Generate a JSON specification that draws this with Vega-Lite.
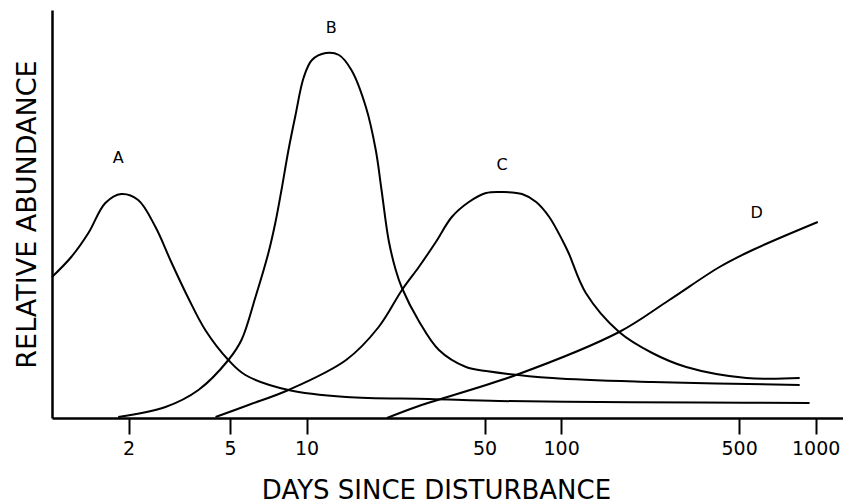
{
  "$schema": "https://vega.github.io/schema/vega-lite/v6.json",
  "width": 791,
  "height": 408,
  "autosize": {"type": "none"},
  "padding": {"left": 52, "top": 10, "right": 0, "bottom": 86},
  "background": "white",
  "config": {
    "view": {"stroke": null},
    "font": "DejaVu Sans"
  },
  "datasets": {
    "curves": [
      {"series": "A", "days": 1.0, "abundance": 141},
      {"series": "A", "days": 1.19, "abundance": 161},
      {"series": "A", "days": 1.39, "abundance": 185},
      {"series": "A", "days": 1.62, "abundance": 215},
      {"series": "A", "days": 1.87, "abundance": 224},
      {"series": "A", "days": 2.18, "abundance": 218},
      {"series": "A", "days": 2.55, "abundance": 191},
      {"series": "A", "days": 2.94, "abundance": 156},
      {"series": "A", "days": 3.43, "abundance": 120},
      {"series": "A", "days": 4.0, "abundance": 88},
      {"series": "A", "days": 4.93, "abundance": 58},
      {"series": "A", "days": 5.75, "abundance": 43},
      {"series": "A", "days": 8.49, "abundance": 28},
      {"series": "A", "days": 14.3, "abundance": 21},
      {"series": "A", "days": 30.2, "abundance": 19},
      {"series": "A", "days": 57.0, "abundance": 17},
      {"series": "A", "days": 141, "abundance": 16},
      {"series": "A", "days": 349, "abundance": 15.5},
      {"series": "A", "days": 946, "abundance": 15},
      {"series": "B", "days": 1.82, "abundance": 1},
      {"series": "B", "days": 2.79, "abundance": 11},
      {"series": "B", "days": 3.76, "abundance": 28},
      {"series": "B", "days": 4.93, "abundance": 58},
      {"series": "B", "days": 5.55, "abundance": 78},
      {"series": "B", "days": 6.3, "abundance": 121},
      {"series": "B", "days": 7.08, "abundance": 165},
      {"series": "B", "days": 7.55, "abundance": 196},
      {"series": "B", "days": 7.97, "abundance": 228},
      {"series": "B", "days": 8.49, "abundance": 268},
      {"series": "B", "days": 9.05, "abundance": 303},
      {"series": "B", "days": 9.73, "abundance": 340},
      {"series": "B", "days": 10.5, "abundance": 358},
      {"series": "B", "days": 11.9, "abundance": 365},
      {"series": "B", "days": 13.4, "abundance": 363},
      {"series": "B", "days": 15.0, "abundance": 348},
      {"series": "B", "days": 17.1, "abundance": 311},
      {"series": "B", "days": 18.7, "abundance": 268},
      {"series": "B", "days": 19.7, "abundance": 228},
      {"series": "B", "days": 21.0, "abundance": 178},
      {"series": "B", "days": 22.4, "abundance": 148},
      {"series": "B", "days": 23.7, "abundance": 130},
      {"series": "B", "days": 27.6, "abundance": 97},
      {"series": "B", "days": 33.1, "abundance": 68},
      {"series": "B", "days": 42.3, "abundance": 51},
      {"series": "B", "days": 50.7, "abundance": 47},
      {"series": "B", "days": 92.3, "abundance": 40},
      {"series": "B", "days": 228, "abundance": 36},
      {"series": "B", "days": 865, "abundance": 33},
      {"series": "C", "days": 4.39, "abundance": 1},
      {"series": "C", "days": 5.91, "abundance": 13},
      {"series": "C", "days": 8.49, "abundance": 28},
      {"series": "C", "days": 14.3, "abundance": 58},
      {"series": "C", "days": 19.2, "abundance": 91},
      {"series": "C", "days": 23.7, "abundance": 128},
      {"series": "C", "days": 27.6, "abundance": 151},
      {"series": "C", "days": 32.2, "abundance": 176},
      {"series": "C", "days": 37.2, "abundance": 201},
      {"series": "C", "days": 43.4, "abundance": 216},
      {"series": "C", "days": 50.7, "abundance": 225},
      {"series": "C", "days": 58.6, "abundance": 226},
      {"series": "C", "days": 70.2, "abundance": 224},
      {"series": "C", "days": 79.8, "abundance": 216},
      {"series": "C", "days": 89.8, "abundance": 201},
      {"series": "C", "days": 101, "abundance": 178},
      {"series": "C", "days": 107, "abundance": 165},
      {"series": "C", "days": 125, "abundance": 125},
      {"series": "C", "days": 169, "abundance": 86},
      {"series": "C", "days": 228, "abundance": 65},
      {"series": "C", "days": 310, "abundance": 51},
      {"series": "C", "days": 535, "abundance": 40},
      {"series": "C", "days": 865, "abundance": 40},
      {"series": "D", "days": 20.7, "abundance": 0},
      {"series": "D", "days": 27.6, "abundance": 12},
      {"series": "D", "days": 66.5, "abundance": 43},
      {"series": "D", "days": 169, "abundance": 86},
      {"series": "D", "days": 266, "abundance": 118},
      {"series": "D", "days": 419, "abundance": 151},
      {"series": "D", "days": 565, "abundance": 168},
      {"series": "D", "days": 1019, "abundance": 196}
    ],
    "labels": [
      {"label": "A", "days": 1.82, "abundance": 260},
      {"label": "B", "days": 12.5, "abundance": 390},
      {"label": "C", "days": 58.6, "abundance": 253},
      {"label": "D", "days": 586, "abundance": 205}
    ]
  },
  "layer": [
    {
      "data": {"name": "curves"},
      "mark": {"type": "line", "interpolate": "catmull-rom", "color": "black", "strokeWidth": 2},
      "encoding": {
        "x": {
          "field": "days", "type": "quantitative",
          "scale": {"type": "log", "domain": [1, 1280], "nice": false},
          "axis": {
            "values": [2, 5, 10, 50, 100, 500, 1000],
            "format": "d",
            "title": "DAYS SINCE DISTURBANCE",
            "titleFontSize": 26, "titleFontWeight": "normal", "titleColor": "black",
            "titlePadding": 19, "titleX": 384,
            "labelFontSize": 19, "labelColor": "black", "labelPadding": 5,
            "labelFlush": false, "labelOverlap": false,
            "tickSize": 16, "tickWidth": 2, "tickColor": "black",
            "domainColor": "black", "domainWidth": 2.5,
            "grid": false
          }
        },
        "y": {
          "field": "abundance", "type": "quantitative",
          "scale": {"domain": [0, 408], "nice": false},
          "axis": {
            "title": "RELATIVE ABUNDANCE",
            "titleFontSize": 27, "titleFontWeight": "normal", "titleColor": "black",
            "titlePadding": 11,
            "labels": false, "ticks": false, "grid": false,
            "domainColor": "black", "domainWidth": 2.5
          }
        },
        "detail": {"field": "series", "type": "nominal"}
      }
    },
    {
      "data": {"name": "labels"},
      "mark": {"type": "text", "fontSize": 16, "color": "black", "baseline": "middle", "align": "center"},
      "encoding": {
        "x": {"field": "days", "type": "quantitative"},
        "y": {"field": "abundance", "type": "quantitative"},
        "text": {"field": "label"}
      }
    }
  ]
}
